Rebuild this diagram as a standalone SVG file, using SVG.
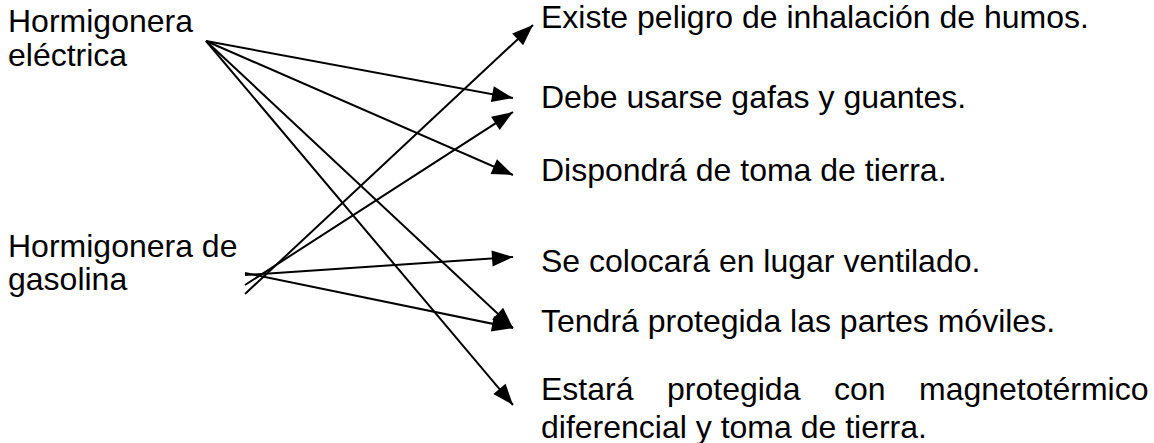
<svg xmlns="http://www.w3.org/2000/svg" width="1154" height="443" viewBox="0 0 1154 443">
<style>
text{font-family:"Liberation Sans",Arial,sans-serif;font-size:32px;fill:#000}
.c line{stroke:#000;stroke-width:2;fill:none}
</style>
<defs>
<marker id="ah" markerUnits="userSpaceOnUse" markerWidth="22" markerHeight="18" refX="21" refY="8" orient="auto" viewBox="0 0 22 16" overflow="visible">
<path d="M0,0 L21,8 L0,16 Z" fill="#000"/>
</marker>
</defs>
<rect width="1154" height="443" fill="#fff"/>
<g id="electrica">
<text x="8" y="32">Hormigonera</text>
<text x="8" y="66">eléctrica</text>
</g>
<g id="gasolina">
<text x="8" y="257">Hormigonera de</text>
<text x="8" y="290">gasolina</text>
</g>
<g id="r1"><text x="541" y="28">Existe peligro de inhalación de humos.</text></g>
<g id="r2"><text x="541" y="108">Debe usarse gafas y guantes.</text></g>
<g id="r3"><text x="541" y="181">Dispondrá de toma de tierra.</text></g>
<g id="r4"><text x="541" y="272">Se colocará en lugar ventilado.</text></g>
<g id="r5"><text x="541" y="332">Tendrá protegida las partes móviles.</text></g>
<g id="r6">
<text y="400"><tspan x="541">Estará</tspan><tspan x="667">protegida</tspan><tspan x="834">con</tspan><tspan x="919">magnetotérmico</tspan></text>
<text x="541" y="438">diferencial y toma de tierra.</text>
</g>
<g class="c" id="connectors">
<line x1="206" y1="41" x2="513" y2="98" marker-end="url(#ah)"/>
<line x1="206" y1="41" x2="513" y2="175" marker-end="url(#ah)"/>
<line x1="206" y1="41" x2="513" y2="328" marker-end="url(#ah)"/>
<line x1="206" y1="41" x2="513" y2="405" marker-end="url(#ah)"/>
<line x1="245" y1="294" x2="533" y2="25" marker-end="url(#ah)"/>
<line x1="245" y1="285" x2="513" y2="112" marker-end="url(#ah)"/>
<line x1="245" y1="275" x2="513" y2="257" marker-end="url(#ah)"/>
<line x1="245" y1="273" x2="513" y2="328" marker-end="url(#ah)"/>
</g>
</svg>
